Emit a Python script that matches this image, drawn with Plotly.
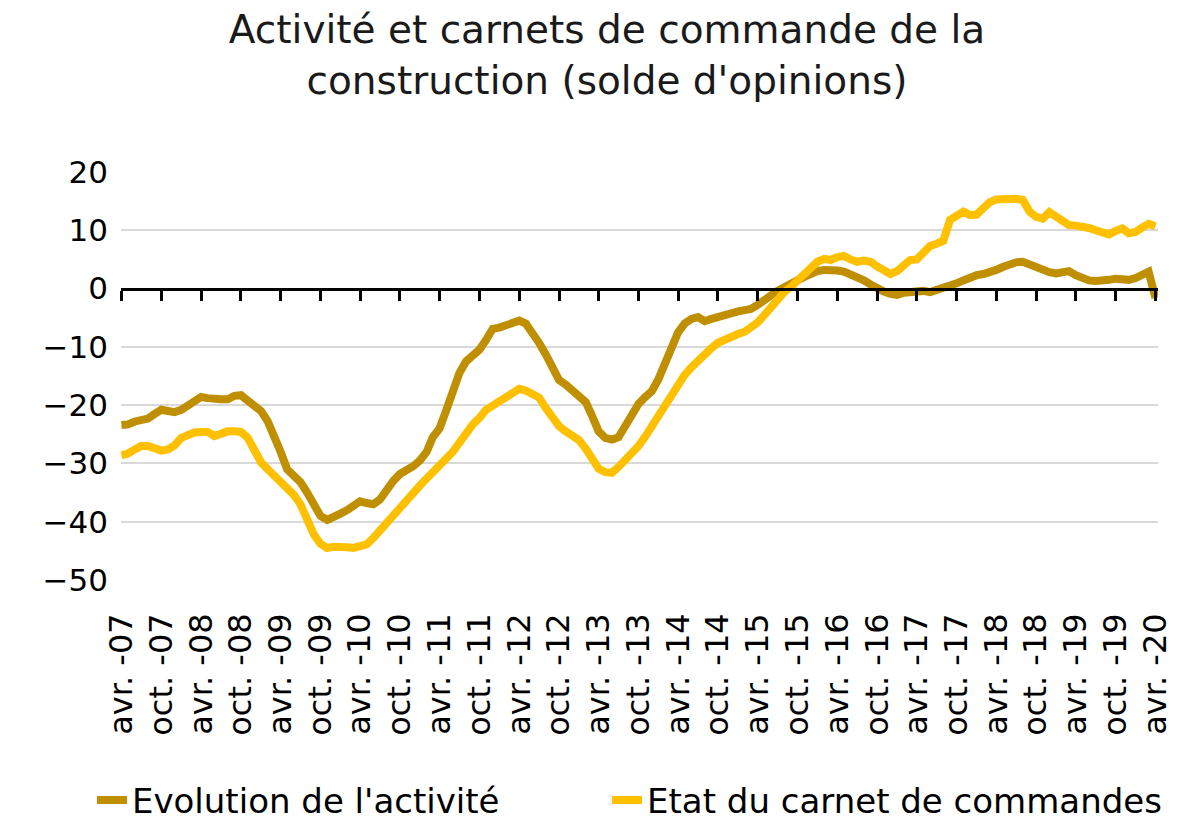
import pandas as pd
import plotly.graph_objects as go

start_month = "2007-04-01"

activite = [
    -23.4, -23.3, -22.8, -22.4, -22.3, -21.5, -20.8, -21.0, -21.2, -20.8,
    -20.0, -19.3, -18.6, -18.8, -19.0, -19.0, -19.0, -18.4, -18.3, -19.3,
    -20.3, -21.0, -22.8, -25.0, -28.0, -31.0, -32.2, -33.2, -35.0, -37.2,
    -39.0, -39.7, -39.3, -38.6, -38.0, -37.4, -36.5, -36.8, -37.0, -36.2,
    -34.5, -33.0, -31.8, -31.2, -30.5, -29.5, -28.0, -25.5, -24.0, -21.0,
    -18.0, -14.5, -12.5, -11.6, -10.5, -8.8, -6.9, -6.7, -6.4, -6.1,
    -5.5, -6.0, -7.5, -9.3, -11.3, -13.8, -15.7, -16.5, -17.5, -18.5,
    -19.5, -21.8, -24.5, -25.6, -25.9, -25.5, -23.6, -21.5, -19.8, -18.6,
    -17.6, -15.5, -12.6, -9.8, -7.5, -6.0, -5.2, -4.9, -5.6, -5.2,
    -4.8, -4.4, -4.1, -3.9, -3.7, -3.5, -2.8, -1.8, -1.2, -0.4,
    0.1, 0.7, 1.4, 2.0, 2.6, 3.0, 3.2, 3.3, 3.1, 2.9,
    2.5, 2.1, 1.4, 0.7, 0.0, -0.5, -0.9, -1.1, -0.7, -0.5,
    -0.3, -0.4, -0.6, -0.3, 0.1, 0.5, 0.9, 1.4, 1.9, 2.3,
    2.5, 2.7, 3.2, 3.7, 4.2, 4.5, 4.6, 4.1, 3.6, 3.2,
    2.8, 2.6, 2.8, 3.0, 2.3, 1.8, 1.4, 1.3, 1.3, 1.5,
    1.7, 1.5, 1.5, 1.8, 2.2, 2.9, -1.6,
]

carnet = [
    -28.6, -28.3, -27.6, -27.0, -27.0, -27.4, -27.8, -27.6, -26.9, -25.6,
    -25.0, -24.7, -24.6, -24.6, -25.3, -24.8, -24.5, -24.5, -24.6, -25.6,
    -27.6, -29.8, -31.0, -32.0, -32.8, -34.2, -35.4, -37.0, -39.6, -42.2,
    -43.8, -44.5, -44.3, -44.2, -44.4, -44.5, -44.3, -43.9, -42.8, -41.5,
    -40.2, -38.6, -37.3, -36.2, -34.8, -33.8, -32.6, -31.4, -30.2, -29.2,
    -28.0, -26.4, -24.6, -23.3, -22.2, -20.8, -20.1, -19.3, -18.5, -17.7,
    -17.2, -17.5, -18.1, -18.7, -20.5, -22.4, -23.6, -24.5, -25.4, -26.0,
    -27.5, -29.3, -30.9, -31.5, -31.6, -30.6, -29.5, -28.2, -27.0, -25.4,
    -23.7, -21.6, -19.8, -18.2, -16.3, -14.8, -13.5, -12.4, -11.0, -10.2,
    -9.3, -8.7, -8.2, -7.8, -7.4, -6.8, -5.8, -4.6, -3.2, -1.6,
    -0.6, 0.3, 1.3, 2.4, 3.6, 4.6, 5.1, 4.9, 5.4, 5.6,
    5.0, 4.6, 4.8, 4.6, 3.8, 3.0, 2.5, 3.0, 3.8, 4.9,
    5.0, 6.3, 7.3, 7.7, 8.2, 11.8, 12.6, 13.2, 12.6, 12.7,
    13.8, 14.8, 15.3, 15.4, 15.4, 15.4, 15.2, 13.2, 12.3, 12.0,
    13.1, 12.4, 11.6, 10.9, 10.8, 10.7, 10.4, 10.0, 9.6, 9.3,
    9.9, 10.3, 9.5, 9.7, 10.5, 11.1, 10.7,
]

tick_labels = [
    "avr. -07", "oct. -07", "avr. -08", "oct. -08", "avr. -09", "oct. -09",
    "avr. -10", "oct. -10", "avr. -11", "oct. -11", "avr. -12", "oct. -12",
    "avr. -13", "oct. -13", "avr. -14", "oct. -14", "avr. -15", "oct. -15",
    "avr. -16", "oct. -16", "avr. -17", "oct. -17", "avr. -18", "oct. -18",
    "avr. -19", "oct. -19", "avr. -20",
]

y_ticks = [20, 10, 0, -10, -20, -30, -40, -50]

dates = pd.date_range(start=start_month, periods=len(activite), freq="MS")
tick_dates = dates[::6]

FONT = "DejaVu Sans"
C_ACT = "#BF8F00"
C_CAR = "#FFC000"

fig = go.Figure()
fig.add_trace(go.Scatter(x=dates, y=activite, mode="lines",
                         name="Evolution de l'activité", legend="legend",
                         line=dict(color=C_ACT, width=8)))
fig.add_trace(go.Scatter(x=dates, y=carnet, mode="lines",
                         name="Etat du carnet de commandes", legend="legend2",
                         line=dict(color=C_CAR, width=8)))
# invisible trace carrying the zero axis with its tick marks
fig.add_trace(go.Scatter(x=[dates[0], dates[-1]], y=[0, 0], mode="lines",
                         xaxis="x2", line=dict(width=0), showlegend=False,
                         hoverinfo="skip"))

x_range = [dates[0] - pd.Timedelta(days=2), dates[-1] + pd.Timedelta(days=12)]
y_range = [-50, 20]

legend_font = dict(size=34, family=FONT, color="black")

fig.update_layout(
    width=1198, height=834,
    margin=dict(l=113, r=48, t=164, b=224),
    paper_bgcolor="white", plot_bgcolor="white",
    font=dict(family=FONT, color="black", size=31),
    title=dict(text="Activité et carnets de commande de la<br>construction (solde d'opinions)",
               x=0.5, xanchor="center", y=0.958, yanchor="top",
               font=dict(family=FONT, size=39, color="#1a1a1a")),
    xaxis=dict(range=x_range, tickvals=tick_dates, ticktext=tick_labels,
               tickangle=-90, showgrid=False, zeroline=False, showline=False,
               ticks="", ticklabelstandoff=26,
               tickfont=dict(size=32, family=FONT)),
    xaxis2=dict(range=x_range, overlaying="x", anchor="free",
                position=(0 - y_range[0]) / (y_range[1] - y_range[0]),
                side="bottom", showline=True, linecolor="black", linewidth=3,
                tickvals=tick_dates, ticks="outside", ticklen=10, tickwidth=3,
                tickcolor="black", showticklabels=False, showgrid=False,
                zeroline=False),
    yaxis=dict(range=y_range, tickvals=y_ticks, showgrid=True,
               gridcolor="#D9D9D9", gridwidth=2, zeroline=False,
               showline=False, ticks="", ticklabelstandoff=12,
               tickfont=dict(size=31, family=FONT)),
    legend=dict(orientation="h", x=-0.028, xanchor="left", y=-0.54,
                yanchor="middle", font=legend_font),
    legend2=dict(orientation="h", x=0.4687, xanchor="left", y=-0.54,
                 yanchor="middle", font=legend_font),
    showlegend=True,
)

fig.write_html("out.html")
